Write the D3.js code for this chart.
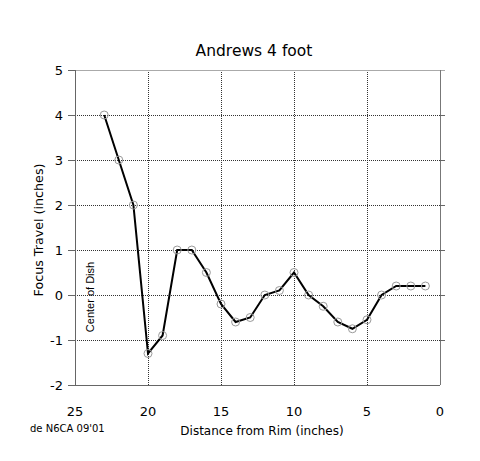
<!DOCTYPE html>
<html><head><meta charset="utf-8">
<script src="https://cdn.jsdelivr.net/npm/d3@7"></script>
<style>body{margin:0;background:#fff}</style>
</head><body><svg id="c" width="480" height="461"></svg>
<script>
const distance = [23,22,21,20,19,18,17,16,15,14,13,12,11,10,9,8,7,6,5,4,3,2,1];
const focus = [4,3,2,-1.3,-0.9,1,1,0.5,-0.2,-0.6,-0.5,0,0.1,0.5,0,-0.25,-0.6,-0.75,-0.55,0,0.2,0.2,0.2];
const xTicks = [25,20,15,10,5,0];
const yTicks = [-2,-1,0,1,2,3,4,5];

const svg = d3.select('#c');
const font = 'DejaVu Sans, Verdana, sans-serif';
const L=75,R=440,T=70,B=385;
const x = d3.scaleLinear().domain([25,0]).range([L,R]);
const y = d3.scaleLinear().domain([-2,5]).range([B,T]);
const px = v => Math.round(v)+0.5;

// grid
svg.append('g').selectAll('line').data(xTicks.filter(d=>d!==25&&d!==0)).join('line')
  .attr('x1',d=>px(x(d))).attr('x2',d=>px(x(d))).attr('y1',T).attr('y2',B)
  .attr('stroke','#333').attr('stroke-width',1).attr('stroke-dasharray','1,1');
svg.append('g').selectAll('line').data(yTicks.filter(d=>d!==-2&&d!==5)).join('line')
  .attr('x1',L).attr('x2',R).attr('y1',d=>px(y(d))).attr('y2',d=>px(y(d)))
  .attr('stroke','#333').attr('stroke-width',1).attr('stroke-dasharray','1,1');
// frame
svg.append('line').attr('x1',L).attr('x2',R+5).attr('y1',T+0.5).attr('y2',T+0.5).attr('stroke','#aaa');
svg.append('line').attr('x1',R+0.5).attr('x2',R+0.5).attr('y1',T).attr('y2',B).attr('stroke','#777');
// y ticks both sides
svg.append('g').selectAll('line').data(yTicks).join('line')
  .attr('x1',L-7).attr('x2',L).attr('y1',d=>px(y(d))).attr('y2',d=>px(y(d))).attr('stroke','#666');
svg.append('g').selectAll('line').data(yTicks.filter(d=>d!==5&&d!==-2)).join('line')
  .attr('x1',R).attr('x2',R+5).attr('y1',d=>px(y(d))).attr('y2',d=>px(y(d))).attr('stroke','#666');
// axes
svg.append('line').attr('x1',L+0.5).attr('x2',L+0.5).attr('y1',T).attr('y2',B).attr('stroke','#666');
svg.append('line').attr('x1',L-7).attr('x2',R).attr('y1',B+0.5).attr('y2',B+0.5).attr('stroke','#666');

// tick labels
svg.append('g').selectAll('text').data(yTicks).join('text')
  .attr('x',L-12).attr('y',d=>y(d)+5).attr('text-anchor','end')
  .attr('font-family',font).attr('font-size',13).text(d=>d);
svg.append('g').selectAll('text').data(xTicks).join('text')
  .attr('x',d=>x(d)).attr('y',416).attr('text-anchor','middle')
  .attr('font-family',font).attr('font-size',13).text(d=>d);

// line + markers
const line = d3.line().x((d,i)=>x(distance[i])).y(d=>y(d));
svg.append('path').datum(focus).attr('d',line).attr('fill','none').attr('stroke','#000').attr('stroke-width',2);
svg.append('g').selectAll('circle').data(focus).join('circle')
  .attr('cx',(d,i)=>x(distance[i])).attr('cy',d=>y(d)).attr('r',4)
  .attr('fill','none').attr('stroke','#999').attr('stroke-width',1);

// texts
svg.append('text').attr('x',254).attr('y',56).attr('text-anchor','middle')
  .attr('font-family',font).attr('font-size',15.5).attr('font-weight',500).text('Andrews 4 foot');
svg.append('text').attr('x',262).attr('y',435).attr('text-anchor','middle')
  .attr('font-family',font).attr('font-size',12).text('Distance from Rim (inches)');
svg.append('text').attr('transform','translate(43,230) rotate(-90)').attr('text-anchor','middle')
  .attr('font-family',font).attr('font-size',12.7).text('Focus Travel (inches)');
svg.append('text').attr('transform','translate(94,297) rotate(-90)').attr('text-anchor','middle')
  .attr('font-family','Liberation Sans Narrow, Arial Narrow, sans-serif').attr('font-size',11).text('Center of Dish');
svg.append('text').attr('x',30).attr('y',432)
  .attr('font-family',font).attr('font-size',10).text("de N6CA 09'01");
</script></body></html>
